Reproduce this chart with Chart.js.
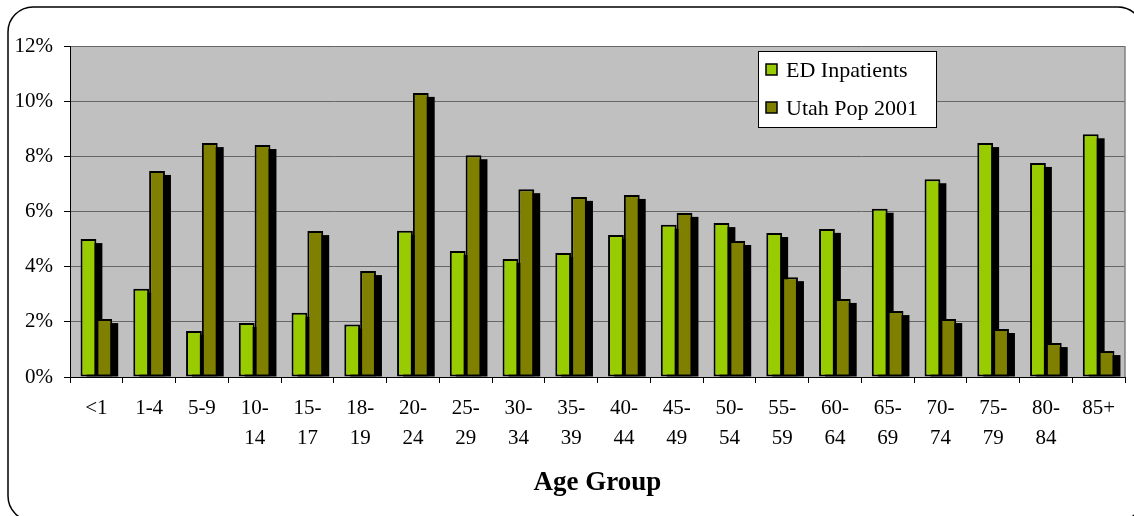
<!DOCTYPE html>
<html>
<head>
<meta charset="utf-8">
<script src="https://cdn.jsdelivr.net/npm/chart.js@4/dist/chart.umd.min.js"></script>
<style>
  html, body { margin: 0; padding: 0; background: #fff; }
  canvas { display: block; }
</style>
</head>
<body>
<canvas id="ageChart" width="1134" height="516"></canvas>
<script>
// age groups (multi-line labels like the original)
var ageGroups = [['<1'], ['1-4'], ['5-9'], ['10-', '14'], ['15-', '17'], ['18-', '19'], ['20-', '24'],
  ['25-', '29'], ['30-', '34'], ['35-', '39'], ['40-', '44'], ['45-', '49'], ['50-', '54'],
  ['55-', '59'], ['60-', '64'], ['65-', '69'], ['70-', '74'], ['75-', '79'], ['80-', '84'], ['85+']];

// percent of total
var edInpatients = [5.0, 3.2, 1.67, 1.96, 2.33, 1.9, 5.3, 4.57, 4.28, 4.5, 5.15, 5.52, 5.58, 5.22, 5.37, 6.1, 7.17, 8.48, 7.76, 8.8];
var utahPop2001 = [2.1, 7.47, 8.48, 8.41, 5.29, 3.84, 10.3, 8.04, 6.81, 6.53, 6.6, 5.95, 4.93, 3.62, 2.83, 2.39, 2.1, 1.74, 1.23, 0.94];

var yTicks = [0, 2, 4, 6, 8, 10, 12];

var serif = "'Liberation Serif', 'Times New Roman', serif";

// rounded frame + grey plot area
var framePlugin = {
  id: 'frame',
  beforeDraw: function(chart) {
    var ctx = chart.ctx, a = chart.chartArea;
    ctx.save();
    ctx.fillStyle = '#fff';
    ctx.fillRect(0, 0, chart.width, chart.height);
    ctx.beginPath();
    ctx.roundRect(8, 7, 1135, 514, 25);
    ctx.lineWidth = 1.5;
    ctx.strokeStyle = '#000';
    ctx.stroke();
    ctx.fillStyle = '#c0c0c0';
    ctx.fillRect(a.left, a.top, a.right - a.left, a.bottom - a.top);
    ctx.restore();
  },
  beforeDatasetsDraw: function(chart) {
    var ctx = chart.ctx, a = chart.chartArea;
    ctx.save();
    // right edge of plot area
    ctx.strokeStyle = '#808080';
    ctx.lineWidth = 1.5;
    ctx.beginPath();
    ctx.moveTo(a.right, a.top);
    ctx.lineTo(a.right, a.bottom);
    ctx.stroke();
    // drop shadows behind every bar
    ctx.fillStyle = '#000';
    chart.data.datasets.forEach(function(ds, i) {
      chart.getDatasetMeta(i).data.forEach(function(bar) {
        var left = bar.x - bar.width / 2 + 6;
        var top = bar.y + 4;
        if (bar.base > top) ctx.fillRect(left, top, bar.width, bar.base - top);
      });
    });
    ctx.restore();
  }
};

// legend box inside the plot, top right
var boxLegend = {
  id: 'boxLegend',
  afterDraw: function(chart) {
    var ctx = chart.ctx, a = chart.chartArea;
    var bx = a.right - 367, by = a.top + 5, bw = 178, bh = 76;
    ctx.save();
    ctx.fillStyle = '#fff';
    ctx.fillRect(bx, by, bw, bh);
    ctx.strokeStyle = '#000';
    ctx.lineWidth = 1;
    ctx.strokeRect(bx + 0.5, by + 0.5, bw, bh);
    ctx.font = '22px ' + serif;
    ctx.textBaseline = 'middle';
    chart.data.datasets.forEach(function(ds, i) {
      var cy = by + 19 + i * 38;
      ctx.fillStyle = ds.backgroundColor;
      ctx.fillRect(bx + 8, cy - 6, 11, 11);
      ctx.lineWidth = 1.5;
      ctx.strokeRect(bx + 8, cy - 6, 11, 11);
      ctx.fillStyle = '#000';
      ctx.fillText(ds.label, bx + 28, cy + 1);
    });
    ctx.restore();
  }
};

new Chart(document.getElementById('ageChart'), {
  type: 'bar',
  data: {
    labels: ageGroups,
    datasets: [{
      label: 'ED Inpatients',
      data: edInpatients,
      backgroundColor: '#99cc00',
      borderColor: '#000',
      borderWidth: 2,
      borderSkipped: false
    }, {
      label: 'Utah Pop 2001',
      data: utahPop2001,
      backgroundColor: '#808000',
      borderColor: '#000',
      borderWidth: 2,
      borderSkipped: false
    }]
  },
  options: {
    responsive: false,
    animation: false,
    categoryPercentage: 0.6,
    barPercentage: 1.0,
    layout: { padding: { top: 46, right: 9, left: 0, bottom: 0 } },
    plugins: {
      legend: { display: false },
      tooltip: { enabled: false }
    },
    scales: {
      x: {
        afterFit: function(s) { s.height = 139; },
        grid: { drawOnChartArea: false, drawTicks: true, tickLength: 6, color: '#000' },
        border: { color: '#000', width: 1 },
        ticks: {
          color: '#000',
          autoSkip: false,
          maxRotation: 0,
          padding: 10,
          font: { family: serif, size: 21, lineHeight: 1.43 }
        },
        title: {
          display: true,
          text: 'Age Group',
          color: '#000',
          font: { family: serif, size: 27, weight: 'bold' },
          padding: { top: 0, bottom: 17 }
        }
      },
      y: {
        min: 0,
        max: 12,
        afterFit: function(s) { s.width = 70; },
        afterBuildTicks: function(s) { s.ticks = yTicks.map(function(v) { return { value: v }; }); },
        grid: { color: '#666', tickLength: 6, tickColor: '#000' },
        border: { color: '#000', width: 1 },
        ticks: {
          color: '#000',
          padding: 11,
          font: { family: serif, size: 21 },
          callback: function(v) { return v + '%'; }
        }
      }
    }
  },
  plugins: [framePlugin, boxLegend]
});
</script>
</body>
</html>
